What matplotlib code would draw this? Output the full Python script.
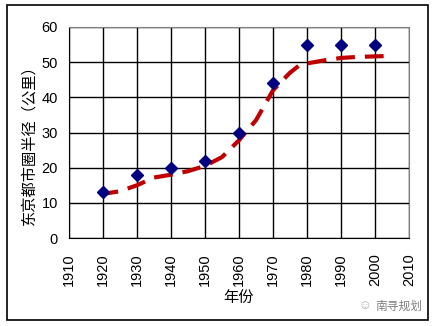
"""Tokyo metropolitan radius by year, with fitted growth curve."""

import matplotlib.pyplot as plt
from matplotlib.patches import Rectangle

plt.rcParams["font.family"] = ["Liberation Sans", "Noto Sans CJK SC", "DejaVu Sans"]

# Observed radius (km)
years = [1920, 1930, 1940, 1950, 1960, 1970, 1980, 1990, 2000]
radius = [13, 18, 20, 22, 30, 44, 55, 55, 55]

# Fitted curve
fit_years = [1919, 1925, 1930, 1935, 1940, 1945, 1950, 1955, 1960,
             1965, 1970, 1975, 1978, 1985, 1990, 1995, 2005]
fit_radius = [12.4, 13.3, 15.0, 17.2, 18.0, 19.0, 20.5, 23.0, 27.8,
              33.5, 42.0, 47.0, 49.3, 50.5, 51.2, 51.5, 51.8]

xticks = list(range(1910, 2011, 10))
yticks = list(range(0, 61, 10))

fig = plt.figure(figsize=(4.33, 3.26), dpi=100)
ax = fig.add_axes([69 / 433, 1 - 238 / 326, 340 / 433, 211 / 326])

# Fitted curve (thick red dashes)
ax.plot(fit_years, fit_radius, color="#C00000", linewidth=3.0,
        dashes=(4.5, 2.4), solid_capstyle="butt", zorder=3)

# Data points
ax.plot(years, radius, linestyle="none", marker="D", markersize=6,
        color="#000080", zorder=4)

ax.set_xlim(1910, 2010)
ax.set_ylim(0, 60)
ax.set_xticks(xticks)
ax.set_yticks(yticks)
ax.set_xticklabels([str(y) for y in xticks], rotation=90)
ax.tick_params(length=0, labelsize=10.5)
ax.tick_params(axis="y", pad=8)
ax.tick_params(axis="x", pad=11)
ax.grid(True, color="black", linewidth=1.0)
ax.set_axisbelow(True)

for side in ["top", "right"]:
    ax.spines[side].set_color("#808080")
for side in ["left", "bottom"]:
    ax.spines[side].set_color("black")

cjk = ["Noto Sans CJK SC", "DejaVu Sans"]
fig.text(29 / 433, 1 - 141 / 326, "东京都市圈半径（公里）", rotation=90,
         ha="center", va="center", fontsize=11, family=cjk)
fig.text(238 / 433, 1 - 297 / 326, "年份", ha="center", va="center",
         fontsize=11, family=cjk)
fig.text(365 / 433, 1 - 306 / 326, "\u263a", ha="center", va="center",
         fontsize=9, color="#b0b0b0")
fig.text(399 / 433, 1 - 306 / 326, "南寻规划", ha="center", va="center",
         fontsize=8.5, color="#808080", family=cjk)

# Outer chart border
fig.patches.append(Rectangle((7 / 433, 1 - 320 / 326), 421 / 433, 315 / 326,
                             transform=fig.transFigure, fill=False,
                             edgecolor="black", linewidth=1.2))

plt.savefig("out.png", dpi=100)
plt.close(fig)
